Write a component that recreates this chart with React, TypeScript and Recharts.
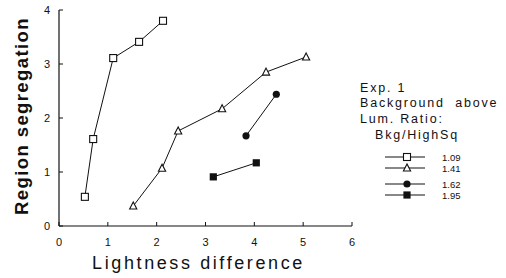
import React from 'react';
import { LineChart, Line, XAxis, YAxis, Legend } from 'recharts';

const xTicks = [0, 1, 2, 3, 4, 5, 6];
const yTicks = [0, 1, 2, 3, 4];
const seriesNames = ['1.09', '1.41', '1.62', '1.95'];
const legendHeader = ['Exp. 1', 'Background  above', 'Lum. Ratio:', 'Bkg/HighSq'];

const x109 = [0.53, 0.7, 1.11, 1.64, 2.13];
const y109 = [0.54, 1.61, 3.11, 3.41, 3.8];
const x141 = [1.52, 2.11, 2.44, 3.34, 4.24, 5.06];
const y141 = [0.37, 1.07, 1.76, 2.17, 2.85, 3.13];
const x162 = [3.83, 4.45];
const y162 = [1.67, 2.44];
const x195 = [3.16, 4.04];
const y195 = [0.91, 1.17];

const toPoints = (xs: number[], ys: number[]) => xs.map((x, i) => ({ x, y: ys[i] }));
const d109 = toPoints(x109, y109);
const d141 = toPoints(x141, y141);
const d162 = toPoints(x162, y162);
const d195 = toPoints(x195, y195);

const FONT = '"Liberation Sans", Arial, Helvetica, sans-serif';
const INK = '#111';

const OpenSquare = ({ cx, cy }: any) =>
  cx == null ? null : <rect x={cx - 3.5} y={cy - 3.5} width={7} height={7} fill="#fff" stroke={INK} strokeWidth={1.1} />;
const OpenTriangle = ({ cx, cy }: any) =>
  cx == null ? null : (
    <polygon points={`${cx},${cy - 4} ${cx - 3.6},${cy + 3} ${cx + 3.6},${cy + 3}`} fill="#fff" stroke={INK} strokeWidth={1.1} />
  );
const FilledCircle = ({ cx, cy }: any) => (cx == null ? null : <circle cx={cx} cy={cy} r={3.6} fill={INK} />);
const FilledSquare = ({ cx, cy }: any) =>
  cx == null ? null : <rect x={cx - 3.6} y={cy - 3.6} width={7.2} height={7.2} fill={INK} />;

const markers = [OpenSquare, OpenTriangle, FilledCircle, FilledSquare];

const XTick = ({ x, y, payload }: any) => (
  <g>
    <line x1={x} y1={y} x2={x} y2={y - 4} stroke={INK} strokeWidth={1} />
    <text x={x} y={y + 20} textAnchor="middle" fontSize={11} fontFamily={FONT} fill={INK}>
      {payload.value}
    </text>
  </g>
);

const YTick = ({ x, y, payload }: any) => (
  <g>
    <line x1={x} y1={y} x2={x + 4} y2={y} stroke={INK} strokeWidth={1} />
    <text x={x - 9} y={y + 4} textAnchor="end" fontSize={11} fontFamily={FONT} fill={INK}>
      {payload.value}
    </text>
  </g>
);

const LegendBox = () => {
  const headerY = [92, 107, 123, 139];
  const headerX = [360, 360, 360, 375];
  const rowY = [157, 168, 184, 195];
  return (
    <svg width={506} height={278} style={{ position: 'absolute', left: 0, top: 0, pointerEvents: 'none' }}>
      {legendHeader.map((t, i) => (
        <text key={t} x={headerX[i]} y={headerY[i]} fontSize={12.5} fontFamily={FONT} fill={INK} letterSpacing={1.8} style={{ whiteSpace: 'pre' }}>
          {t}
        </text>
      ))}
      {seriesNames.map((n, i) => {
        const M = markers[i];
        return (
          <g key={n}>
            <line x1={385} y1={rowY[i]} x2={425} y2={rowY[i]} stroke={INK} strokeWidth={1} />
            <M cx={407} cy={rowY[i]} />
            <text x={442} y={rowY[i] + 3.5} fontSize={9.5} fontFamily={FONT} fill={INK}>
              {n}
            </text>
          </g>
        );
      })}
    </svg>
  );
};

export default function App() {
  const datasets = [d109, d141, d162, d195];
  return (
    <div style={{ position: 'absolute', left: 0, top: 0, width: 506, height: 278, background: '#fff' }}>
      <LineChart width={506} height={278} margin={{ top: 10, right: 154, left: 0, bottom: 0 }}>
        <XAxis
          dataKey="x"
          type="number"
          domain={[0, 6]}
          ticks={xTicks}
          allowDataOverflow
          height={52}
          tickSize={0}
          tickMargin={0}
          tickLine={false}
          tick={<XTick />}
          axisLine={{ stroke: INK, strokeWidth: 1.2 }}
          label={({ viewBox }: any) => (
            <text
              x={viewBox.x + viewBox.width / 2 - 7}
              y={viewBox.y + 43}
              textAnchor="middle"
              fontSize={18}
              fontFamily={FONT}
              letterSpacing={2.6}
              fill={INK}
            >
              Lightness difference
            </text>
          )}
        />
        <YAxis
          type="number"
          domain={[0, 4]}
          ticks={yTicks}
          width={59}
          tickSize={0}
          tickMargin={0}
          tickLine={false}
          tick={<YTick />}
          axisLine={{ stroke: INK, strokeWidth: 1.2 }}
          label={() => (
            <text
              x={28}
              y={116}
              transform={`rotate(-90 28 116)`}
              textAnchor="middle"
              fontSize={18.5}
              fontWeight="bold"
              fontFamily={FONT}
              letterSpacing={1.4}
              fill={INK}
            >
              Region segregation
            </text>
          )}
        />
        <Legend
          layout="horizontal"
          verticalAlign="middle"
          align="center"
          wrapperStyle={{ position: 'absolute', left: 0, top: 0, width: 506, height: 278 }}
          content={() => <LegendBox />}
        />
        {datasets.map((d, i) => {
          const M = markers[i];
          return (
            <Line
              key={seriesNames[i]}
              name={seriesNames[i]}
              data={d}
              dataKey="y"
              type="linear"
              stroke={INK}
              strokeWidth={1}
              dot={(p: any) => <M key={`${i}-${p.index}`} cx={p.cx} cy={p.cy} />}
              activeDot={false}
              isAnimationActive={false}
              legendType="none"
            />
          );
        })}
      </LineChart>
    </div>
  );
}
